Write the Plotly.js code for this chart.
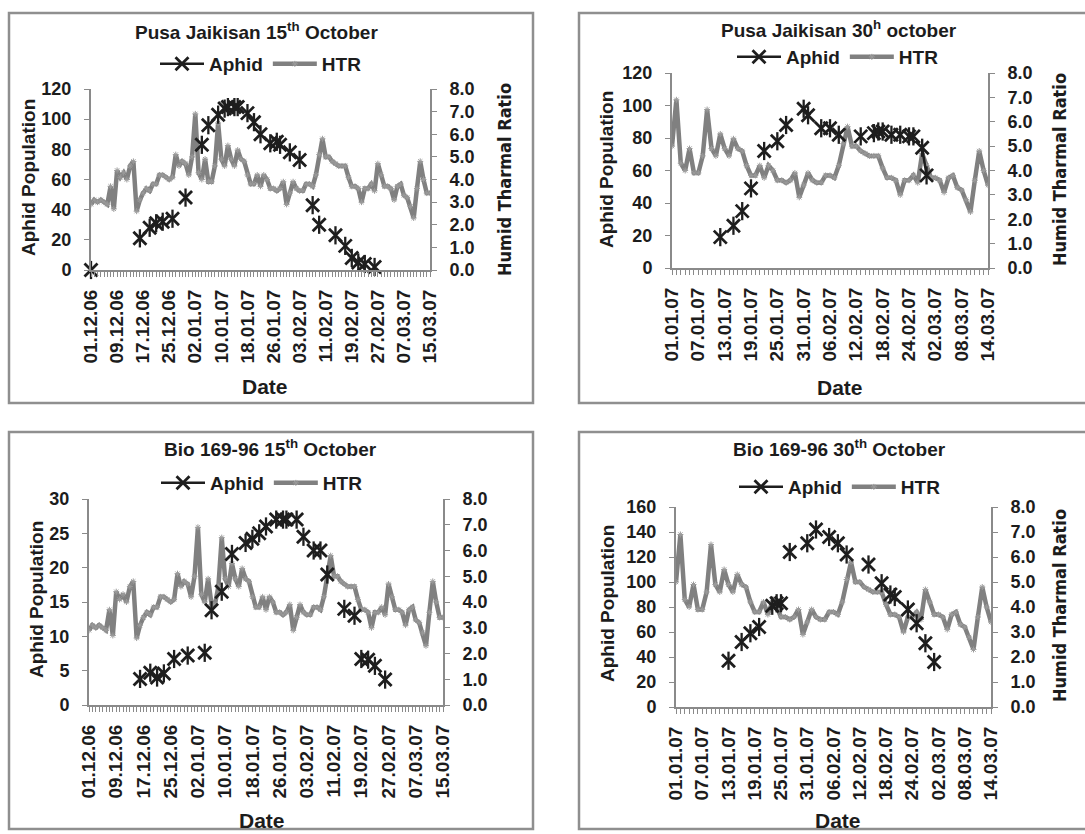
<!DOCTYPE html>
<html><head><meta charset="utf-8">
<script src="https://cdn.plot.ly/plotly-3.0.1.min.js"></script>
<style>html,body{margin:0;padding:0;background:#fff;}#chart{width:1085px;height:834px;}</style>
</head><body><div id="chart"></div>
<script>
// ---------- DATA ----------
// Humid Thermal Ratio, daily from 01.12.06 to 15.03.07
const htrStart = '2006-12-01';
const htrDec = [2.9,3.1,3.0,3.1,3.0,2.9,3.7,2.7,4.4,4.1,4.3,4.0,4.6,4.8,2.6,3.1,3.4,3.6,3.5,3.8,3.8,4.2,4.2,4.1,4.0,4.1,5.1,4.6,4.8,4.7,4.2];
const htrJan = [5.0,6.9,4.3,4.0,4.9,3.9,3.9,4.6,6.5,4.9,4.6,5.5,4.9,4.6,5.3,4.9,4.8,4.2,3.8,3.8,4.2,3.7,4.2,4.0,3.6,3.6,3.5,3.6,3.9,2.9,3.4];
const htrFeb = [3.9,3.6,3.5,3.5,3.8,3.8,3.7,4.2,5.1,5.8,5.0,5.0,4.8,4.7,4.6,4.6,4.6,4.1,3.7,3.7,3.6,3.0,3.6,3.6,3.8,3.5,4.7,4.2];
const htrMar = [3.7,3.7,3.6,3.1,3.7,3.8,3.3,3.2,2.8,2.3,3.6,4.8,4.0,3.4,3.4];

// Pusa Jaikisan 15th October - aphid population
const pj15Dates = ['01.12.06','16.12.06','19.12.06','21.12.06','23.12.06','26.12.06','30.12.06','04.01.07','06.01.07','09.01.07','11.01.07','12.01.07','14.01.07','15.01.07','18.01.07','20.01.07','22.01.07','25.01.07','27.01.07','28.01.07','31.01.07','03.02.07','07.02.07','09.02.07','14.02.07','17.02.07','19.02.07','21.02.07','23.02.07','26.02.07'];
const pj15Aphid = [0,21,28,31,32,34,48,83,96,103,107,108,108,108,104,98,90,84,85,83,78,73,43,30,23,16,8,5,4,2];

// Pusa Jaikisan 30th october - aphid population
const pj30Dates = ['12.01.07','15.01.07','17.01.07','19.01.07','22.01.07','25.01.07','27.01.07','31.01.07','01.02.07','04.02.07','06.02.07','08.02.07','13.02.07','16.02.07','17.02.07','18.02.07','20.02.07','22.02.07','24.02.07','25.02.07','27.02.07','28.02.07'];
const pj30Aphid = [19,26,35,49,72,78,88,98,94,86,86,82,81,83,84,84,82,82,81,81,74,57];

// Bio 169-96 15th October - aphid population
const bio15Dates = ['16.12.06','19.12.06','21.12.06','23.12.06','26.12.06','30.12.06','04.01.07','06.01.07','09.01.07','12.01.07','16.01.07','18.01.07','20.01.07','22.01.07','25.01.07','27.01.07','28.01.07','31.01.07','02.02.07','05.02.07','07.02.07','09.02.07','14.02.07','17.02.07','19.02.07','21.02.07','23.02.07','26.02.07'];
const bio15Aphid = [3.8,4.7,4.0,4.6,6.7,7.2,7.6,13.8,16.5,22,23.6,24.2,25,26,27,27,27,27,24.5,22.5,22.5,19,14,13,6.7,6.6,5.7,3.7];

// Bio 169-96 30th October - aphid population
const bio30Dates = ['13.01.07','16.01.07','18.01.07','20.01.07','23.01.07','24.01.07','25.01.07','27.01.07','31.01.07','02.02.07','05.02.07','07.02.07','09.02.07','14.02.07','17.02.07','19.02.07','20.02.07','23.02.07','25.02.07','27.02.07','01.03.07'];
const bio30Aphid = [37,52,59,64,81,83,83,124,131,142,136,131,122,114,99,90,88,78,67,51,36];

const panelTitles = ['Pusa Jaikisan 15<sup>th</sup> October','Pusa Jaikisan 30<sup>h</sup> october','Bio 169-96 15<sup>th</sup> October','Bio 169-96 30<sup>th</sup> October'];
const yTitle = 'Aphid Population';
const y2Title = 'Humid Tharmal Ratio';
const xTitle = 'Date';

// ---------- HELPERS ----------
const DAY = 86400000;
const W = 1085, H = 834;
function iso(s){const p=s.split('.');return '20'+p[2]+'-'+p[1]+'-'+p[0];}
function dayList(start,n){const t0=Date.parse(start+'T00:00:00Z');return Array.from({length:n},(_,i)=>new Date(t0+i*DAY).toISOString().slice(0,10));}
function nDays(a,b){return Math.round((Date.parse(b+'T00:00:00Z')-Date.parse(a+'T00:00:00Z'))/DAY)+1;}
const htrValues = htrDec.concat(htrJan,htrFeb,htrMar);
const htrDates = dayList(htrStart, htrValues.length);
function htrRange(a,b){const x=[],y=[];htrDates.forEach((d,i)=>{if(d>=a&&d<=b){x.push(d);y.push(htrValues[i]);}});return {x,y};}
function aphidDaily(a,b,dates,vals){const days=dayList(a,nDays(a,b));const m={};dates.forEach((d,i)=>m[iso(d)]=vals[i]);return {x:days,y:days.map(d=>(d in m)?m[d]:null)};}
const px=(v)=>v/W, py=(v)=>1-v/H;

// ---------- PANELS ----------
const FONT='Liberation Sans, Arial, sans-serif';
const NARROW='Liberation Sans Narrow, Arial Narrow, DejaVu Sans Condensed, sans-serif';
const TXT='#1c1c1c', AX='#8a8a8a';
const panels=[
 {start:'2006-12-01',end:'2007-03-15',dtick:8,dates:pj15Dates,vals:pj15Aphid,yr:[0,120],yd:20,
  dom:[91,430,89,270],title:[256,31],leg:[261,64],yt:[28,178],y2t:[504,180],xt:[265,386]},
 {start:'2007-01-01',end:'2007-03-14',dtick:6,dates:pj30Dates,vals:pj30Aphid,yr:[0,120],yd:20,
  dom:[672,988,73,268],title:[839,29],leg:[838,57],yt:[606,170],y2t:[1059,170],xt:[840,387]},
 {start:'2006-12-01',end:'2007-03-15',dtick:8,dates:bio15Dates,vals:bio15Aphid,yr:[0,30],yd:5,
  dom:[89,443,499,705],title:[270,448],leg:[262,483],yt:[36,600],y2t:null,xt:[262,820]},
 {start:'2007-01-01',end:'2007-03-14',dtick:6,dates:bio30Dates,vals:bio30Aphid,yr:[0,160],yd:20,
  dom:[676,991,507,707],title:[839,448],leg:[840,487],yt:[607,604],y2t:[1059,606],xt:[838,820]}
];

const data=[], layout={width:W,height:H,margin:{l:0,r:0,t:0,b:0},paper_bgcolor:'#fff',plot_bgcolor:'rgba(0,0,0,0)',
  showlegend:true,annotations:[],shapes:[],font:{family:FONT,color:TXT}};
const tickF=(s)=>({family:FONT,size:s,color:TXT,weight:'bold'});

// outer boxes
[[9,13,533,403],[579,13,1092,403],[9,432,533,829],[579,432,1092,829]].forEach(b=>{
  layout.shapes.push({type:'rect',xref:'paper',yref:'paper',x0:px(b[0]),x1:px(b[2]),y0:py(b[3]),y1:py(b[1]),line:{color:'#8f8f8f',width:2.5},fillcolor:'rgba(0,0,0,0)'});
});

panels.forEach((p,i)=>{
  const k=i+1;
  const xr = k===1?'x':'x'+k;
  const yHi = 2*k-1, yAi = 2*k;
  const yHr = yHi===1?'y':'y'+yHi, yAr='y'+yAi;
  const legName = k===1?'legend':'legend'+k;
  const ap = aphidDaily(p.start,p.end,p.dates,p.vals);
  const ht = htrRange(p.start,p.end);
  data.push({type:'scatter',mode:'lines+markers',name:'Aphid',x:ap.x,y:ap.y,xaxis:xr,yaxis:yAr,connectgaps:false,cliponaxis:false,
    line:{color:'#1e1e1e',width:2.5},marker:{symbol:'x-thin-open',size:13,color:'#1e1e1e',line:{color:'#1e1e1e',width:2.8}},legend:legName});
  data.push({type:'scatter',mode:'markers',name:'Aphid',x:ap.x,y:ap.y,xaxis:xr,yaxis:yAr,showlegend:false,cliponaxis:false,
    marker:{symbol:'line-ns-open',size:13,color:'#1e1e1e',line:{color:'#1e1e1e',width:2.3}},legend:legName});
  data.push({type:'scatter',mode:'lines+markers',name:'HTR',x:ht.x,y:ht.y,xaxis:xr,yaxis:yHr,
    line:{color:'#808080',width:4.5},marker:{symbol:'asterisk-open',size:5,color:'#9a9a9a',line:{color:'#9a9a9a',width:1}},legend:legName});

  const xa = {domain:[px(p.dom[0]),px(p.dom[1])],anchor:yHr,type:'date',range:[p.start,p.end],
    tick0:p.start,dtick:p.dtick*DAY,tickformat:'%d.%m.%y',tickangle:-90,ticks:'outside',ticklen:5,tickcolor:AX,tickwidth:1,
    showline:true,linecolor:AX,linewidth:2,showgrid:false,zeroline:false,tickfont:tickF(19),ticklabelstandoff:5,
    minor:{dtick:DAY,tick0:p.start,ticks:'outside',ticklen:5,tickcolor:AX,tickwidth:1,showgrid:false}};
  const yh = {domain:[py(p.dom[3]),py(p.dom[2])],anchor:xr,side:'right',range:[0,8],dtick:1,tickformat:'.1f',
    ticks:'outside',ticklen:5,tickcolor:AX,showline:true,linecolor:AX,linewidth:2,showgrid:false,zeroline:false,
    tickfont:tickF(18),ticklabelstandoff:9};
  const ya = {overlaying:yHr,anchor:xr,side:'left',range:p.yr,dtick:p.yd,ticks:'outside',ticklen:5,tickcolor:AX,
    showline:true,linecolor:AX,linewidth:2,showgrid:false,zeroline:false,tickfont:tickF(18),ticklabelstandoff:9};
  layout[k===1?'xaxis':'xaxis'+k]=xa;
  layout[yHi===1?'yaxis':'yaxis'+yHi]=yh;
  layout['yaxis'+yAi]=ya;
  layout[legName]={x:px(p.leg[0]),y:py(p.leg[1]),xanchor:'center',yanchor:'middle',orientation:'h',
    font:{family:FONT,size:19,color:TXT,weight:'bold'},bgcolor:'rgba(0,0,0,0)',itemwidth:44,traceorder:'normal'};
  const ann=(t,x,y,o)=>layout.annotations.push(Object.assign({text:t,xref:'paper',yref:'paper',x:px(x),y:py(y),
    xanchor:'center',yanchor:'middle',showarrow:false,font:{family:FONT,size:19,color:TXT,weight:'bold'}},o||{}));
  ann(panelTitles[i],p.title[0],p.title[1]);
  ann(yTitle,p.yt[0],p.yt[1],{textangle:-90,font:{family:FONT,size:19,color:TXT,weight:'bold'}});
  ann(xTitle,p.xt[0],p.xt[1],{font:{family:FONT,size:21,color:TXT,weight:'bold'}});
  if(p.y2t) ann(y2Title,p.y2t[0],p.y2t[1],{textangle:-90,font:{family:NARROW,size:18,color:TXT,weight:'bold'}});
});

Plotly.newPlot('chart',data,layout,{staticPlot:true,displayModeBar:false});
</script></body></html>
